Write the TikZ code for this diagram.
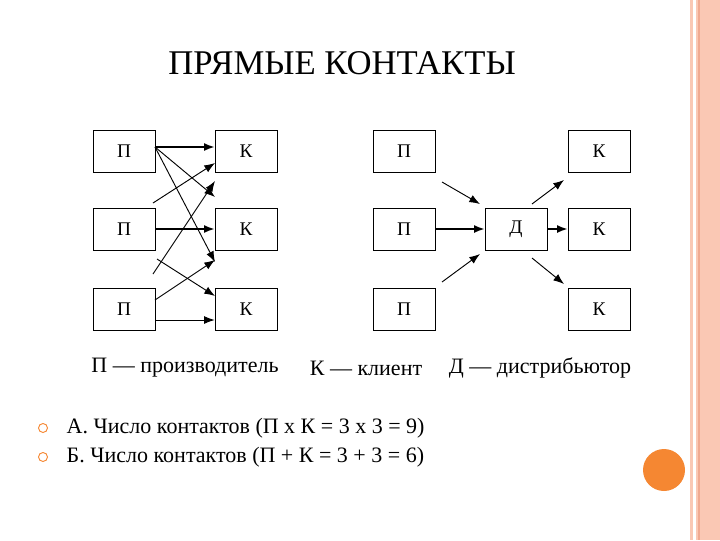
\documentclass[tikz,border=0pt]{standalone}
\usepackage{fontspec}
\setmainfont{Liberation Serif}
\usetikzlibrary{arrows.meta}
\definecolor{salmon}{RGB}{250,200,180}
\definecolor{salline}{RGB}{240,170,145}
\definecolor{dot}{RGB}{245,135,50}
\begin{document}
\begin{tikzpicture}[x=0.75pt,y=-0.75pt,
  bx/.style={draw,minimum width=46.5pt,minimum height=31.5pt,inner sep=0pt,font=\fontsize{14.5}{16}\selectfont},
  ar/.style={-{Latex[length=8pt,width=6pt]},line width=0.7pt},
  tk/.style={-{Latex[length=8pt,width=6pt]},line width=1.4pt},
  tx/.style={font=\fontsize{16.5}{19}\selectfont}]
\useasboundingbox (0,0) rectangle (720,540);
\fill[salmon] (690,0) rectangle (720,540);
\fill[white] (693,0) rectangle (696,540);
\draw[salline,line width=0.8pt] (699,0) -- (699,540);
\fill[dot] (664,470) circle (21);
\node[font=\fontsize{26}{30}\selectfont] (title) at (342,63) {ПРЯМЫЕ КОНТАКТЫ};
% left
\node[bx] (p1) at (124,151) {П};
\node[bx] (p2) at (124,229) {П};
\node[bx] (p3) at (124,309) {П};
\node[bx] (k1) at (246,151) {К};
\node[bx] (k2) at (246,229) {К};
\node[bx] (k3) at (246,309) {К};
\coordinate (a1) at (155,147);
\draw[tk] (a1) -- (k1.west|-a1);
\draw[ar] (a1) -- (215,197);
\draw[ar] (a1) -- (215,262);
\coordinate (b1) at (153,203); \draw[ar] (b1) -- (215,163);
\draw[tk] (p2.east) -- (k2.west);
\coordinate (b2) at (153,274); \draw[ar] (b2) -- (215,181);
\coordinate (b3) at (157,259); \draw[ar] (b3) -- (215,296);
\coordinate (c1) at (155,300); \draw[ar] (c1) -- (215,260);
\coordinate (c2) at (155,320); \draw[ar] (c2) -- (k3.west|-c2);
% right
\node[bx] (q1) at (404,151) {П};
\node[bx] (q2) at (404,229) {П};
\node[bx] (q3) at (404,309) {П};
\node[bx] (d) at (516,229) {Д};
\node[bx] (m1) at (599,151) {К};
\node[bx] (m2) at (599,229) {К};
\node[bx] (m3) at (599,309) {К};
\coordinate (e1) at (442,182); \draw[ar] (e1) -- (480,204);
\draw[tk] (q2.east) -- (d.west);
\coordinate (e3) at (442,282); \draw[ar] (e3) -- (480,254);
\coordinate (f1) at (532,204); \draw[ar] (f1) -- (564,180);
\draw[tk] (d.east) -- (m2.west);
\coordinate (f3) at (532,258); \draw[ar] (f3) -- (564,284);
% legend
\node[tx] (l1) at (185,368) {П — производитель};
\node[tx] (l2) at (366,368) {К — клиент};
\node[tx] (l3) at (540,368) {Д — дистрибьютор};
\draw[dot,line width=0.7pt] (43,428) circle (4.5);
\draw[dot,line width=0.7pt] (43,457) circle (4.5);
\node[tx,anchor=west] (t1) at (62,428) {А. Число контактов (П х К = 3 х 3 = 9)};
\node[tx,anchor=west] (t2) at (62,457) {Б. Число контактов (П + К = 3 + 3 = 6)};
\end{tikzpicture}
\end{document}
